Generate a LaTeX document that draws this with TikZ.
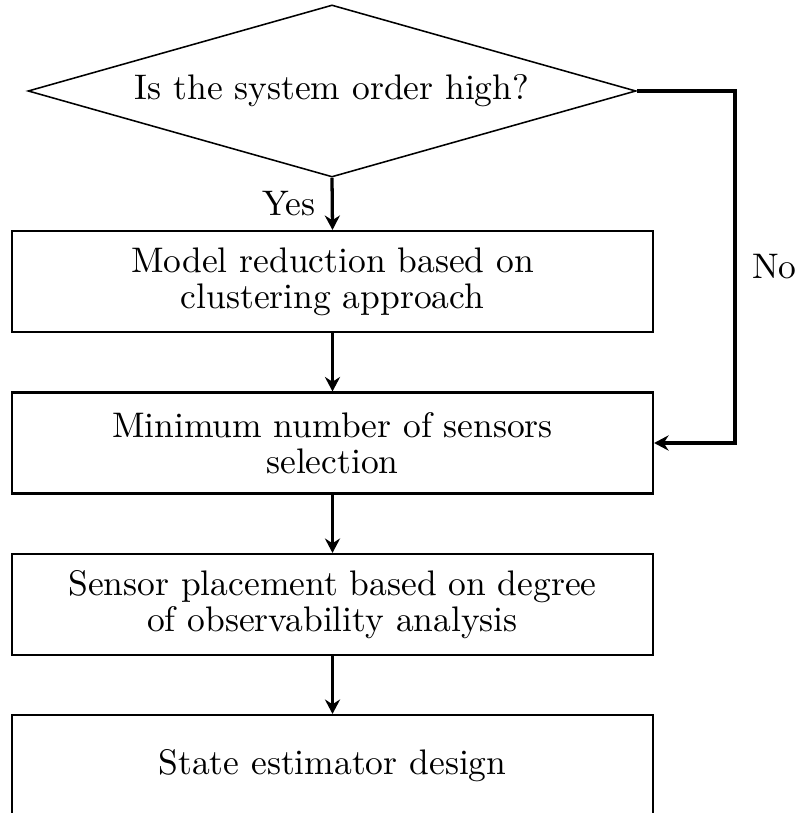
\documentclass[tikz,border=0pt]{standalone}
\usetikzlibrary{shapes.geometric,arrows.meta}
\begin{document}
\begin{tikzpicture}[x=0.29pt,y=-0.29pt,
  font=\fontsize{10.3}{10.5}\selectfont,
  decision/.style={diamond,draw,line width=0.45pt,minimum width=176.3pt,minimum height=49.9pt,inner sep=0pt,aspect=3.5},
  procbox/.style={rectangle,draw,line width=0.6pt,minimum width=185.9pt,minimum height=29.3pt,align=center,inner sep=0pt},
  flow/.style={line width=0.95pt,-{Stealth[length=4.2pt,width=4.4pt,inset=1.4pt]}}]
\useasboundingbox (0,0) rectangle (795,813);
\clip (0,0) rectangle (795,813);
\node[decision] (q) at (332,91) {Is the system order high?};
\node[procbox] (b1) at (332.5,281.5) {Model reduction based on\\clustering approach};
\node[procbox] (b2) at (332.5,443) {Minimum number of sensors\\selection};
\node[procbox] (b3) at (332.5,604.5) {Sensor placement based on degree\\of observability analysis};
\node[procbox] (b4) at (332.5,765.5) {State estimator design};
\coordinate (nc) at (735,91);
\draw[flow] (q.south) -- node[left,xshift=-1pt] {Yes} (b1.north);
\draw[flow] (b1.south) -- (b2.north);
\draw[flow] (b2.south) -- (b3.north);
\draw[flow] (b3.south) -- (b4.north);
\draw[flow] (q.east) -- (nc) |- node[pos=0.25,right,xshift=1.2pt] {No} (b2.east);
\end{tikzpicture}
\end{document}
